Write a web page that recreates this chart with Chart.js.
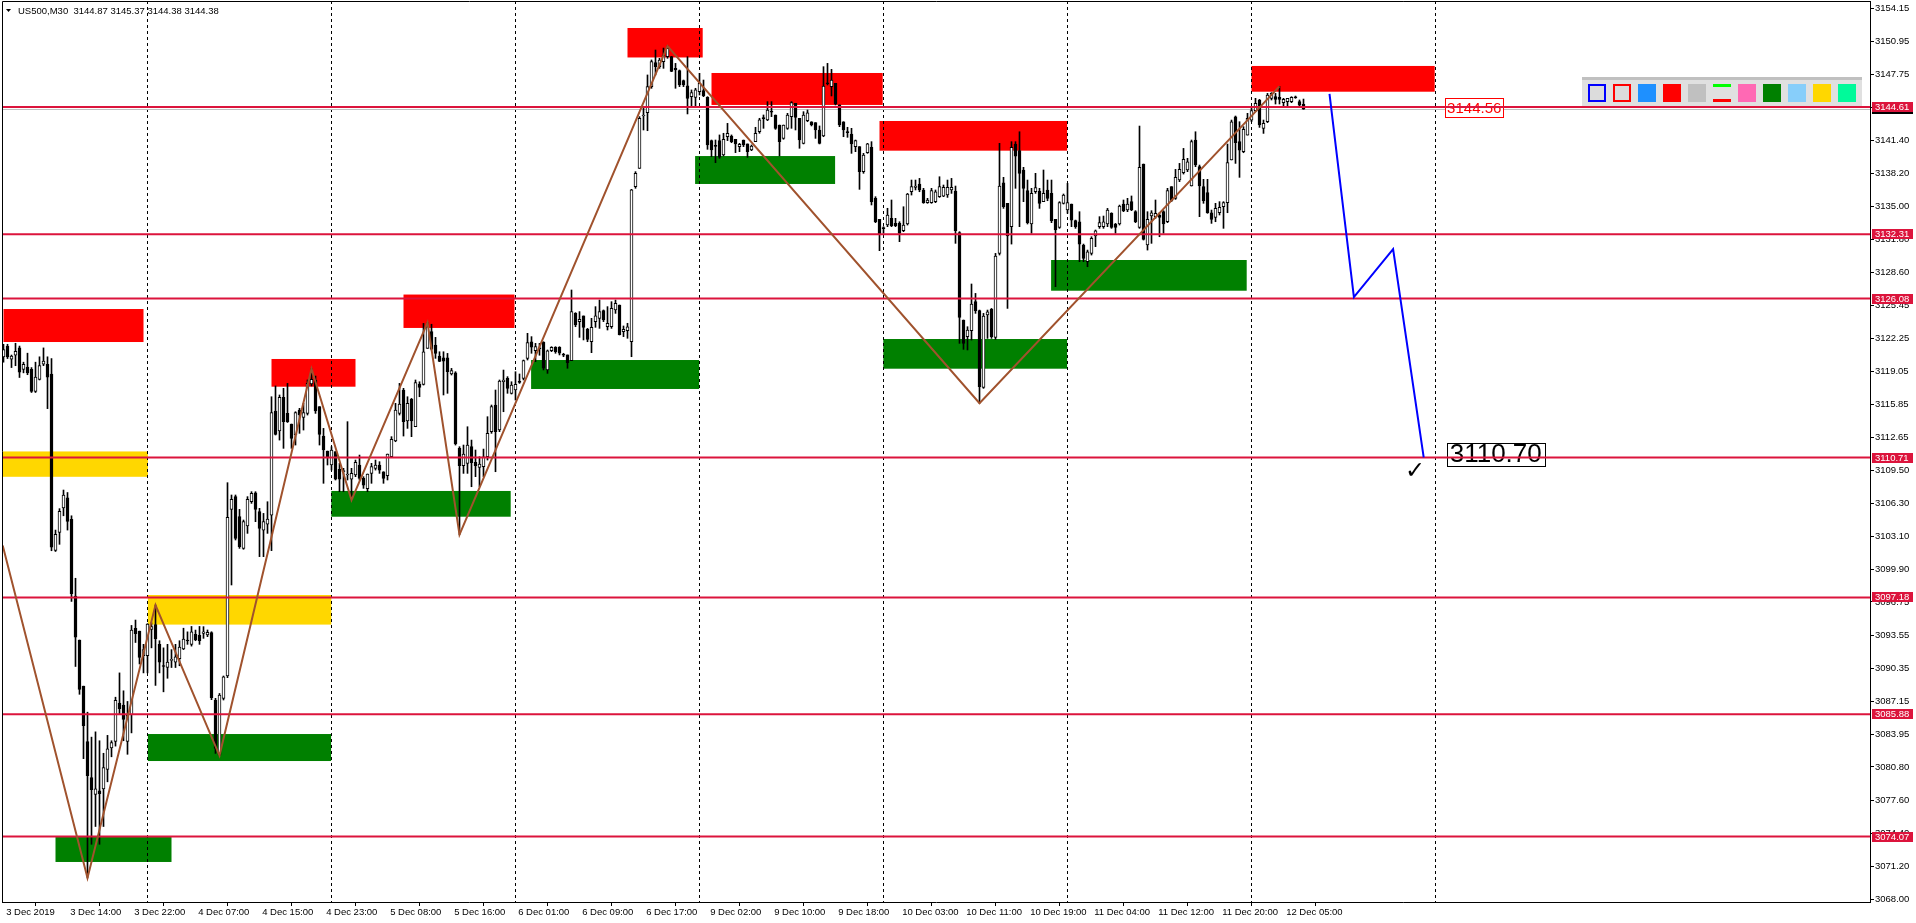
<!DOCTYPE html>
<html><head><meta charset="utf-8">
<script src="https://cdn.jsdelivr.net/npm/chart.js@4.4.1/dist/chart.umd.min.js"></script>
<style>html,body{margin:0;padding:0;background:#fff;overflow:hidden}canvas{display:block}</style>
</head><body>
<canvas id="c" width="1916" height="923"></canvas>
<script>
// ---------- DATA (M30 bars) ----------
const opens=[3120.45,3121.49,3120.21,3120.62,3121.31,3119.24,3119.45,3119.24,3117.10,3118.27,3119.73,3119.73,3118.79,3101.73,3103.46,3105.84,3106.81,3104.74,3097.31,3093.07,3088.61,3083.26,3079.77,3078.15,3078.50,3078.67,3080.57,3082.64,3083.26,3086.96,3086.78,3083.26,3085.85,3094.21,3093.93,3091.55,3091.55,3094.10,3094.55,3092.65,3090.58,3090.41,3091.10,3090.93,3091.27,3092.20,3093.00,3092.65,3093.62,3093.52,
3093.71,3093.55,3093.78,3087.27,3081.95,3087.43,3089.59,3105.70,3106.93,3105.00,3101.93,3104.09,3106.44,3107.31,3105.48,3103.70,3104.28,3105.15,3115.21,3113.28,3116.53,3114.98,3113.95,3112.89,3115.31,3114.60,3114.98,3117.82,3118.21,3115.63,3112.79,3111.34,3109.99,3111.28,3109.57,3109.34,3109.02,3108.63,3109.02,3109.99,3108.70,3107.70,3109.18,3109.67,3109.99,3109.34,3108.96,3110.79,3112.31,3114.98,3117.24,3114.24,3116.34,3113.69,3117.82,3117.79,3121.27,3122.88,3121.59,3120.53,3120.36,3120.36,3118.79,3118.91,3111.60,3109.92,3110.15,3111.76,3110.25,3109.76,3109.83,3110.79,3113.21,3115.79,3113.37,3118.04,3118.37,3116.92,3117.24,3118.04,
3118.37,3120.30,3121.91,3121.04,3121.27,3121.85,3119.18,3121.04,3121.37,3121.37,3120.63,3120.63,3120.08,3124.65,3123.85,3124.40,3123.11,3121.91,3123.85,3124.17,3124.91,3123.36,3123.36,3124.98,3125.46,3122.88,3122.98,3121.91,3136.90,3138.67,3143.73,3144.05,3146.57,3148.89,3148.50,3148.99,3149.47,3149.47,3148.34,3148.12,3147.15,3146.66,3145.60,3145.54,3146.08,3146.18,3145.54,3141.35,3140.83,3141.35,3139.96,3141.73,3141.80,3141.48,3140.77,3141.41,3141.03,3140.45,3141.25,3142.22,3143.51,3143.35,3144.12,3143.83,3142.86,3141.57,3142.54,3143.67,3144.96,3143.51,3141.09,3143.28,3143.18,3143.09,3142.38,3141.80,3146.95,3146.57,3146.89,3144.80,3143.18,3142.15,3141.99,3140.77,3140.77,3138.35,3140.19,3140.70,3135.77,3133.74,3132.87,3133.19,
3133.84,3133.35,3133.35,3132.64,3133.29,3136.41,3136.83,3137.16,3136.58,3135.35,3135.35,3135.45,3135.93,3135.99,3136.09,3136.58,3136.48,3132.45,3124.01,3122.40,3122.98,3125.78,3124.91,3117.50,3124.49,3125.04,3122.33,3130.45,3137.28,3135.29,3133.03,3141.02,3140.38,3138.51,3136.51,3133.29,3136.41,3136.48,3135.45,3136.58,3136.25,3133.74,3132.97,3135.29,3134.64,3135.22,3133.61,3133.51,3131.26,3129.65,3130.45,3132.13,3133.03,3133.03,3133.29,3134.32,3133.29,3133.29,3135.22,3134.64,3135.45,3134.48,3132.97,3139.09,3131.26,3134.06,3134.00,3134.16,3134.48,3133.51,3136.90,3135.77,3137.54,3138.25,3138.51,3136.96,3141.41,3138.83,3136.90,3136.32,3134.38,3133.93,3134.38,3134.96,3135.35,3139.48,3143.66,3141.25,3140.28,3141.89,3143.34,3144.25,3145.28,3142.54,3143.18,3145.44,3145.60,3145.53,3145.02,3145.12,3145.12,3145.53,3145.12,3144.87];
const highs=[3121.66,3121.66,3120.62,3121.76,3121.49,3119.93,3120.80,3119.41,3119.93,3120.45,3121.31,3120.45,3120.28,3103.70,3105.77,3107.57,3107.33,3105.08,3099.04,3093.07,3088.61,3086.09,3083.68,3084.19,3083.33,3082.12,3083.85,3083.33,3087.54,3089.89,3088.16,3087.13,3094.48,3095.00,3093.93,3092.65,3094.65,3094.73,3096.45,3093.00,3092.31,3092.65,3092.14,3092.65,3093.00,3094.21,3093.86,3094.38,3094.03,3094.38,
3094.36,3094.04,3093.87,3087.43,3087.90,3089.59,3108.28,3107.09,3107.09,3105.70,3104.67,3106.93,3107.41,3107.41,3105.80,3105.31,3106.44,3116.59,3117.63,3116.76,3117.40,3117.88,3113.95,3115.14,3115.47,3115.95,3118.21,3119.30,3118.59,3115.63,3113.53,3111.34,3111.76,3111.28,3110.15,3109.67,3114.18,3109.67,3110.47,3110.95,3108.86,3109.12,3110.15,3110.47,3110.31,3109.34,3111.05,3112.73,3115.95,3117.88,3117.40,3116.59,3116.43,3118.21,3118.04,3123.68,3123.75,3123.60,3122.33,3120.94,3120.94,3120.78,3119.33,3119.01,3111.76,3111.92,3113.69,3112.40,3111.44,3110.79,3111.53,3114.66,3115.79,3117.24,3118.21,3119.17,3118.53,3118.04,3119.01,3118.79,
3120.14,3122.72,3122.40,3121.75,3121.75,3121.91,3121.11,3121.43,3121.43,3121.43,3120.79,3120.63,3126.91,3124.72,3124.82,3124.40,3123.20,3124.17,3125.30,3125.94,3124.98,3125.30,3125.78,3125.94,3125.46,3123.43,3123.69,3136.64,3138.35,3143.67,3144.47,3147.70,3149.15,3150.11,3149.31,3150.30,3150.50,3149.50,3148.82,3148.18,3147.21,3149.47,3146.25,3146.41,3147.86,3147.21,3145.60,3141.41,3141.41,3141.90,3142.06,3143.02,3141.90,3141.48,3141.09,3141.41,3141.03,3140.93,3142.64,3143.51,3143.83,3145.12,3145.12,3143.83,3142.86,3142.86,3143.99,3145.12,3144.96,3143.51,3144.15,3144.31,3143.18,3143.09,3142.77,3148.50,3148.82,3148.24,3146.89,3144.80,3143.18,3142.64,3142.54,3141.41,3140.77,3140.12,3141.09,3141.25,3135.93,3133.74,3133.03,3134.81,
3135.61,3133.84,3133.51,3134.96,3136.25,3137.54,3137.54,3137.70,3136.74,3135.77,3136.74,3136.58,3137.86,3137.06,3137.54,3137.70,3136.96,3132.55,3124.01,3123.36,3127.49,3126.58,3124.97,3124.65,3124.97,3125.13,3130.45,3141.09,3137.80,3135.29,3141.25,3141.25,3142.21,3138.77,3137.54,3136.74,3138.19,3136.74,3138.51,3137.54,3137.54,3133.74,3135.45,3136.19,3137.22,3135.22,3133.67,3134.48,3131.35,3130.77,3132.06,3132.71,3134.00,3134.06,3134.80,3134.38,3133.35,3135.12,3135.61,3135.77,3136.00,3134.58,3142.76,3139.09,3134.48,3134.58,3135.61,3134.38,3134.58,3136.74,3136.90,3138.57,3139.15,3140.60,3139.64,3141.41,3142.21,3138.99,3137.61,3137.61,3134.64,3135.29,3135.45,3135.45,3141.02,3143.34,3143.73,3143.18,3142.70,3143.99,3144.47,3145.44,3145.34,3143.34,3145.92,3145.99,3145.92,3146.60,3145.44,3145.44,3145.60,3145.66,3145.28,3145.37];
const lows=[3119.93,3120.28,3119.41,3119.59,3118.45,3118.90,3118.72,3117.00,3117.00,3118.21,3119.59,3115.44,3101.70,3101.63,3102.32,3105.08,3103.70,3096.80,3090.51,3087.82,3081.60,3070.07,3073.32,3075.04,3073.32,3075.04,3079.36,3081.78,3082.81,3085.92,3083.33,3082.02,3084.09,3092.83,3090.75,3089.89,3089.89,3092.31,3088.68,3089.89,3088.06,3089.37,3090.41,3090.41,3090.58,3092.14,3092.65,3092.48,3093.00,3092.65,
3093.23,3093.39,3087.30,3082.11,3081.90,3087.27,3089.43,3098.39,3102.74,3101.93,3101.84,3103.38,3106.28,3104.51,3101.13,3101.13,3103.38,3101.71,3112.89,3112.40,3111.60,3114.10,3111.60,3111.92,3113.05,3113.37,3114.82,3117.63,3114.98,3111.92,3108.22,3109.99,3109.50,3108.54,3107.41,3107.41,3108.54,3106.60,3108.86,3108.54,3107.73,3107.41,3108.22,3109.50,3109.18,3108.22,3108.54,3110.79,3112.24,3114.82,3112.79,3113.53,3112.73,3113.69,3116.59,3117.72,3121.27,3121.11,3120.30,3119.98,3116.76,3116.92,3118.69,3111.92,3103.25,3109.18,3109.18,3107.89,3108.86,3107.89,3108.86,3110.47,3113.05,3109.34,3113.21,3115.14,3116.92,3116.85,3116.27,3117.88,
3118.21,3120.14,3120.79,3119.98,3120.60,3119.18,3118.85,3120.95,3120.79,3120.63,3120.46,3119.34,3120.08,3123.36,3122.33,3122.08,3121.91,3120.85,3123.30,3123.20,3123.85,3123.04,3123.20,3124.65,3122.56,3122.40,3122.24,3120.46,3136.74,3138.67,3142.38,3142.31,3146.41,3147.70,3148.34,3148.34,3149.31,3148.02,3146.41,3146.57,3146.57,3143.93,3144.63,3144.70,3145.76,3145.60,3140.51,3139.80,3139.22,3139.64,3139.87,3141.35,3141.15,3140.19,3140.28,3140.77,3139.74,3140.38,3141.25,3142.06,3142.54,3143.28,3143.67,3142.44,3139.87,3141.48,3142.44,3142.54,3142.38,3140.61,3141.03,3143.18,3142.77,3141.57,3141.03,3141.73,3146.73,3145.67,3144.80,3142.70,3141.73,3141.67,3140.12,3140.28,3136.64,3138.19,3140.12,3135.13,3133.42,3130.71,3132.39,3133.03,
3133.03,3133.03,3131.58,3132.55,3133.19,3136.09,3136.58,3136.41,3135.29,3135.29,3135.29,3135.35,3135.86,3135.93,3135.86,3136.25,3131.42,3121.75,3121.17,3121.11,3122.07,3124.65,3115.96,3117.40,3122.23,3122.23,3122.14,3130.29,3134.80,3125.13,3131.35,3136.74,3133.03,3135.45,3133.29,3132.39,3136.25,3134.80,3135.45,3135.54,3133.42,3127.23,3132.87,3135.22,3134.32,3133.03,3132.87,3129.65,3129.65,3129.16,3130.29,3131.10,3132.87,3132.87,3133.03,3132.87,3132.39,3133.19,3134.48,3134.48,3134.58,3133.42,3132.87,3131.74,3130.77,3131.42,3133.84,3132.06,3132.39,3133.42,3135.45,3135.67,3137.38,3138.12,3138.35,3136.96,3138.83,3134.00,3135.29,3134.32,3133.35,3133.51,3134.16,3132.87,3134.38,3139.48,3139.15,3137.80,3140.18,3141.89,3143.18,3144.15,3142.63,3142.05,3143.09,3145.28,3144.89,3144.89,3144.70,3144.70,3145.02,3145.44,3144.63,3144.38];
const closes=[3121.14,3120.45,3120.52,3120.97,3118.97,3119.73,3118.90,3117.10,3118.48,3119.59,3120.04,3118.48,3102.05,3103.29,3105.50,3107.09,3104.53,3097.56,3093.34,3088.30,3084.78,3079.95,3078.60,3078.67,3078.22,3080.74,3082.54,3083.16,3087.23,3086.44,3085.40,3085.82,3094.03,3093.69,3091.38,3092.14,3094.62,3094.38,3093.17,3090.93,3090.51,3090.93,3091.13,3091.44,3092.38,3093.17,3092.97,3093.86,3093.07,3093.00,
3093.87,3093.81,3087.50,3082.59,3087.75,3089.52,3104.93,3106.67,3102.90,3102.09,3104.51,3106.67,3107.25,3105.70,3103.86,3104.51,3104.77,3115.05,3112.95,3116.53,3114.18,3114.18,3112.57,3115.05,3114.82,3115.05,3117.88,3118.27,3115.21,3112.95,3111.44,3110.70,3111.44,3108.63,3108.63,3109.44,3109.12,3109.18,3110.25,3108.70,3108.05,3109.12,3109.83,3109.99,3109.50,3108.70,3111.05,3112.47,3115.31,3115.89,3114.18,3115.95,3114.24,3117.95,3117.50,3120.94,3123.36,3121.20,3120.78,3120.00,3120.04,3119.01,3119.11,3112.02,3109.92,3111.05,3111.92,3110.21,3109.92,3110.08,3110.79,3113.05,3115.63,3113.21,3118.11,3118.21,3117.40,3117.72,3117.79,3117.98,
3120.08,3121.82,3121.37,3121.43,3121.21,3119.34,3121.04,3121.37,3120.95,3120.79,3120.60,3119.88,3124.82,3123.53,3124.07,3123.30,3122.14,3123.30,3124.40,3124.82,3124.01,3123.69,3125.14,3125.62,3122.60,3123.11,3123.36,3136.60,3138.19,3143.51,3143.83,3146.57,3148.99,3148.50,3149.15,3149.63,3150.27,3148.05,3148.18,3146.73,3146.73,3145.44,3145.99,3146.25,3146.89,3145.70,3140.93,3140.45,3140.80,3139.74,3141.48,3142.06,3141.25,3141.03,3140.99,3140.93,3140.28,3140.83,3142.06,3143.35,3143.48,3144.31,3144.09,3142.54,3141.25,3142.86,3143.83,3145.02,3143.60,3141.41,3143.83,3144.05,3142.86,3142.38,3141.09,3146.63,3146.83,3147.21,3144.89,3142.86,3142.38,3142.12,3141.03,3141.35,3138.35,3139.96,3141.03,3135.45,3133.52,3132.32,3132.84,3134.16,
3133.13,3133.13,3132.39,3133.19,3136.19,3136.90,3136.96,3136.58,3135.35,3135.61,3136.51,3136.41,3136.90,3136.83,3136.83,3136.83,3132.64,3124.26,3121.75,3123.04,3125.55,3124.91,3117.56,3124.39,3124.81,3122.40,3130.19,3136.96,3134.96,3132.13,3140.70,3139.86,3138.19,3136.74,3133.42,3136.25,3136.80,3135.29,3136.25,3135.77,3133.61,3132.71,3135.35,3136.09,3135.35,3133.67,3133.03,3131.35,3129.97,3130.61,3131.90,3132.64,3133.42,3133.51,3134.64,3132.97,3132.97,3135.03,3134.55,3135.22,3134.64,3133.51,3138.77,3131.81,3133.74,3134.38,3134.32,3133.93,3133.29,3136.51,3135.54,3137.80,3138.57,3139.54,3139.31,3141.25,3138.99,3136.96,3135.54,3134.38,3133.74,3134.80,3134.90,3135.35,3139.22,3143.18,3141.15,3140.44,3142.44,3143.50,3144.25,3144.95,3142.86,3143.02,3145.76,3145.92,3145.34,3145.34,3145.34,3145.44,3145.53,3145.50,3144.79,3144.38];

const timeLabels=['3 Dec 2019','3 Dec 14:00','3 Dec 22:00','4 Dec 07:00','4 Dec 15:00','4 Dec 23:00','5 Dec 08:00','5 Dec 16:00','6 Dec 01:00','6 Dec 09:00','6 Dec 17:00','9 Dec 02:00','9 Dec 10:00','9 Dec 18:00','10 Dec 03:00','10 Dec 11:00','10 Dec 19:00','11 Dec 04:00','11 Dec 12:00','11 Dec 20:00','12 Dec 05:00'];
const labelEveryBars=16;
const yTickLabels=['3154.15','3150.95','3147.75','3144.55','3141.40','3138.20','3135.00','3131.80','3128.60','3125.45','3122.25','3119.05','3115.85','3112.65','3109.50','3106.30','3103.10','3099.90','3096.75','3093.55','3090.35','3087.15','3083.95','3080.80','3077.60','3074.40','3071.20','3068.00'];

const levelPrices=[3144.61,3132.31,3126.08,3110.71,3097.18,3085.88,3074.07];
const bidPrice=3144.38;
const daySeparatorBars=[36,82,128,174,220,266,312,358];

const zigzagBars=[-0.2,21,38,54,77,87,106,114,166,244,319];
const zigzagPrices=[3102.2,3070.07,3096.45,3081.9,3119.3,3106.6,3123.75,3103.25,3150.5,3115.96,3146.6];
const projectionBars=[331.5,337.6,347.4,355.05];
const projectionPrices=[3145.86,3126.23,3130.87,3110.72];

// zones: [fromBar, toBar, topPrice, bottomPrice]
const supplyZones=[[0,35,3125.07,3121.88],[67,88,3120.24,3117.56],[100,127.75,3126.47,3123.24],[156,174.8,3152.24,3149.39],[177,219.8,3147.89,3144.80],[219,265.9,3143.25,3140.38],[312,357.8,3148.57,3146.08]];
const demandZones=[[13,42,3074.02,3071.61],[36.1,81.9,3083.98,3081.37],[81.95,126.8,3107.48,3104.99],[131.9,173.9,3120.14,3117.34],[172.9,207.9,3139.86,3137.16],[219.95,265.9,3122.17,3119.30],[261.9,310.8,3129.81,3126.84]];
const neutralZones=[[-0.2,36.1,3111.30,3108.85],[36.1,81.95,3097.42,3094.56]];

const noteBars=[360.4,360.8];
const notePrices=[3144.56,3110.70];
const noteTexts=['3144.56','3110.70'];
const checkBar=352.9, checkPrice=3109.35;
const titleText='US500,M30  3144.87 3145.37 3144.38 3144.38';

// ---------- BUILD ----------
const FONT='"Liberation Sans", Arial, sans-serif';
const wickData=opens.map((o,i)=>({x:i,y:[lows[i],highs[i]]}));
const bodyData=opens.map((o,i)=>({x:i,y:[Math.min(o,closes[i]),Math.max(o,closes[i])]}));
const bodyFill=opens.map((o,i)=>closes[i]>=o?'#ffffff':'#000000');
const X_MIN=-0.375, X_MAX=466.625;
const lineSet=(pts,color,width,order)=>({type:'line',data:pts,borderColor:color,borderWidth:width,pointRadius:0,pointHoverRadius:0,fill:false,tension:0,order:order});
const levelSets=levelPrices.map(p=>lineSet([{x:X_MIN-5,y:p},{x:X_MAX+5,y:p}],'#DC143C',2,3));

const overlay={
  id:'overlay',
  beforeDatasetsDraw(chart){
    const {ctx,chartArea:a,scales:{x,y}}=chart;
    ctx.save();
    ctx.beginPath();ctx.rect(a.left,a.top,a.right-a.left,a.bottom-a.top);ctx.clip();
    const drawZones=(zones,color)=>{ctx.fillStyle=color;zones.forEach(z=>{const x0=x.getPixelForValue(z[0]),x1=x.getPixelForValue(z[1]);const y0=y.getPixelForValue(z[2]),y1=y.getPixelForValue(z[3]);ctx.fillRect(x0,y0,x1-x0,y1-y0);});};
    drawZones(neutralZones,'#FFD700');
    drawZones(supplyZones,'#FF0000');
    drawZones(demandZones,'#008000');
    // day separators
    ctx.strokeStyle='#000';ctx.lineWidth=1;ctx.setLineDash([3,3]);
    daySeparatorBars.forEach(b=>{const px=Math.round(x.getPixelForValue(b)-0.5)+0.5;ctx.beginPath();ctx.moveTo(px,a.top);ctx.lineTo(px,a.bottom);ctx.stroke();});
    ctx.setLineDash([]);
    // bid line
    const by=Math.round(y.getPixelForValue(bidPrice))+0.5;
    ctx.strokeStyle='#C0C0C0';ctx.beginPath();ctx.moveTo(a.left,by);ctx.lineTo(a.right,by);ctx.stroke();
    // text notes (drawn under the lines, as in the terminal)
    noteTexts.forEach((t,i)=>{
      const px=x.getPixelForValue(noteBars[i]), py=y.getPixelForValue(notePrices[i]);
      ctx.textBaseline='middle';ctx.textAlign='left';
      if(i===0){
        ctx.font='15px '+FONT;
        const w=ctx.measureText(t).width;
        ctx.fillStyle='#fff';ctx.fillRect(px,py-9,w+4,19);
        ctx.strokeStyle='#FF0000';ctx.lineWidth=1;ctx.strokeRect(Math.round(px)+0.5,Math.round(py-9)+0.5,Math.round(w+4),19);
        ctx.fillStyle='#FF0000';ctx.fillText(t,px+2,py+1);
      } else {
        ctx.font='26px '+FONT;
        const w=ctx.measureText(t).width;
        ctx.strokeStyle='#000';ctx.lineWidth=1;ctx.strokeRect(Math.round(px)+0.5,Math.round(py-15)+0.5,Math.round(w+6),23);
        ctx.fillStyle='#000';ctx.fillText(t,px+3,py-3);
      }
    });
    ctx.restore();
  },
  afterDatasetsDraw(chart){
    const {ctx,scales:{x,y}}=chart;
    ctx.save();
    // check mark
    const cx=x.getPixelForValue(checkBar), cy=y.getPixelForValue(checkPrice);
    ctx.fillStyle='#000';ctx.font='24px "DejaVu Sans"';ctx.textAlign='center';ctx.textBaseline='middle';
    ctx.fillText('\u2713',cx,cy);
    // palette panel (screen-anchored UI)
    ctx.fillStyle='#E0E0E0';ctx.fillRect(1582,78,280,28);
    ctx.fillStyle='#C0C0C0';ctx.fillRect(1582,77,280,3);
    const sw=['#1E90FF','#FF0000','#C0C0C0',null,'#FF69B4','#008000','#87CEFA','#FFD700','#00FA9A'];
    for(let k=0;k<11;k++){
      const bx=1588+25*k, byy=84;
      if(k===0||k===1){ctx.fillStyle='#DCDCDC';ctx.fillRect(bx,byy,18,18);ctx.strokeStyle=k===0?'#0000FF':'#FF0000';ctx.lineWidth=2;ctx.strokeRect(bx+1,byy+1,16,16);}
      else if(k===5){ctx.fillStyle='#00FF00';ctx.fillRect(bx,byy,18,3);ctx.fillStyle='#FF0000';ctx.fillRect(bx,byy+15,18,3);}
      else {ctx.fillStyle=sw[k-2];ctx.fillRect(bx,byy,18,18);}
    }
    ctx.restore();
  },
  afterDraw(chart){
    const {ctx,chartArea:a,scales:{y}}=chart;
    ctx.save();
    // frame
    ctx.strokeStyle='#000';ctx.lineWidth=1;
    ctx.beginPath();ctx.moveTo(a.left+0.5,a.bottom);ctx.lineTo(a.left+0.5,a.top+0.5);ctx.lineTo(a.right,a.top+0.5);ctx.stroke();
    // axis price labels
    ctx.font='9.5px '+FONT;ctx.textBaseline='middle';ctx.textAlign='left';
    const tag=(p,bg,fg,t)=>{const py=Math.round(y.getPixelForValue(p));ctx.fillStyle=bg;ctx.fillRect(a.right+2,py-5,41,10);ctx.fillStyle=fg;ctx.fillText(t,a.right+5,py+0.5);};
    tag(bidPrice,'#000','#fff',bidPrice.toFixed(2));
    levelPrices.forEach(p=>tag(p,'#DC143C','#fff',p.toFixed(2)));
    // title
    ctx.fillStyle='#000';ctx.beginPath();ctx.moveTo(6,9);ctx.lineTo(11,9);ctx.lineTo(8.5,12);ctx.closePath();ctx.fill();
    ctx.font='9.5px '+FONT;ctx.textBaseline='middle';ctx.fillText(titleText,18,11);
    ctx.restore();
  }
};

new Chart(document.getElementById('c'),{
  type:'bar',
  data:{datasets:[
    {type:'bar',data:wickData,barThickness:1,backgroundColor:'#000',borderWidth:0,grouped:false,order:6},
    {type:'bar',data:bodyData,barThickness:3,backgroundColor:bodyFill,borderColor:'#000',borderWidth:1,borderSkipped:false,grouped:false,minBarLength:1,order:5},
    ...levelSets,
    lineSet(zigzagBars.map((b,i)=>({x:b,y:zigzagPrices[i]})),'#A0522D',2,2),
    lineSet(projectionBars.map((b,i)=>({x:b,y:projectionPrices[i]})),'#0000FF',2,1)
  ]},
  options:{
    responsive:false,animation:false,devicePixelRatio:1,
    layout:{padding:{left:2,top:1,right:0,bottom:0}},
    plugins:{legend:{display:false},tooltip:{enabled:false}},
    events:[],
    scales:{
      x:{type:'linear',position:'bottom',min:X_MIN,max:X_MAX,offset:false,
        afterBuildTicks:s=>{s.ticks=timeLabels.map((t,k)=>({value:k*labelEveryBars}));},
        afterFit:s=>{s.height=21;s.paddingLeft=0;s.paddingRight=0;},
        ticks:{autoSkip:false,maxRotation:0,minRotation:0,align:'start',padding:1,color:'#000',font:{family:FONT,size:9.5},
          callback:v=>' '+timeLabels[Math.round(v/labelEveryBars)]},
        grid:{drawOnChartArea:false,drawTicks:true,tickLength:4,tickColor:'#000',color:'#000'},
        border:{display:true,color:'#000',width:1}},
      y:{type:'linear',position:'right',min:3067.74,max:3154.85,
        afterBuildTicks:s=>{s.ticks=yTickLabels.map(l=>({value:parseFloat(l)}));},
        afterFit:s=>{s.width=46;s.paddingTop=0;s.paddingBottom=0;},
        ticks:{autoSkip:false,padding:1,color:'#000',font:{family:FONT,size:9.5},callback:(v,i)=>yTickLabels[i]},
        grid:{drawOnChartArea:false,drawTicks:true,tickLength:4,tickColor:'#000'},
        border:{display:true,color:'#000',width:1}}
    }
  },
  plugins:[overlay]
});
</script>
</body></html>
